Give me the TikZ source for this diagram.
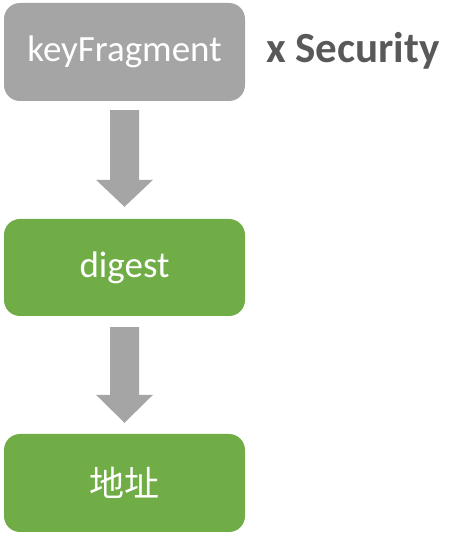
\documentclass[tikz,border=0pt]{standalone}
\usepackage{fontspec}
\setmainfont{Carlito}
\newfontfamily\cjk{Noto Sans CJK SC}
\usetikzlibrary{calc}
\definecolor{boxgray}{HTML}{A5A5A5}
\definecolor{boxgreen}{HTML}{70AD47}
\definecolor{labelgray}{HTML}{595959}
\tikzset{
  flowbox/.style={rectangle, rounded corners=16pt, minimum width=241pt, minimum height=98pt, inner sep=0pt, text=white, font=\fontsize{37}{41}\selectfont},
  blockarrow/.style={fill=boxgray, draw=none}
}
\begin{document}
\begin{tikzpicture}[x=1pt,y=1pt]
\useasboundingbox (0,0) rectangle (463,535);
\node[flowbox, fill=boxgray] (b1) at (124.5,483) {keyFragment};
\node[flowbox, fill=boxgreen, minimum height=97pt] (b2) at (124.5,267.5) {digest};
\node[flowbox, fill=boxgreen] (b3) at (124.5,52) {\cjk\fontsize{35}{40}\selectfont 地址};
\node[anchor=base west, inner sep=0pt, text=labelgray, font=\bfseries\fontsize{43}{48}\selectfont] (sec) at (266,472.7) {x Security};
\fill[blockarrow] ($(b1.south)+(-14.5,-9)$) -- ($(b1.south)+(14.5,-9)$) -- ($(b2.north)+(14.5,39)$) -- ($(b2.north)+(28.5,39)$) -- ($(b2.north)+(0,12)$) -- ($(b2.north)+(-28.5,39)$) -- ($(b2.north)+(-14.5,39)$) -- cycle;
\fill[blockarrow] ($(b2.south)+(-14.5,-11)$) -- ($(b2.south)+(14.5,-11)$) -- ($(b3.north)+(14.5,39)$) -- ($(b3.north)+(28.5,39)$) -- ($(b3.north)+(0,11)$) -- ($(b3.north)+(-28.5,39)$) -- ($(b3.north)+(-14.5,39)$) -- cycle;
\end{tikzpicture}
\end{document}
